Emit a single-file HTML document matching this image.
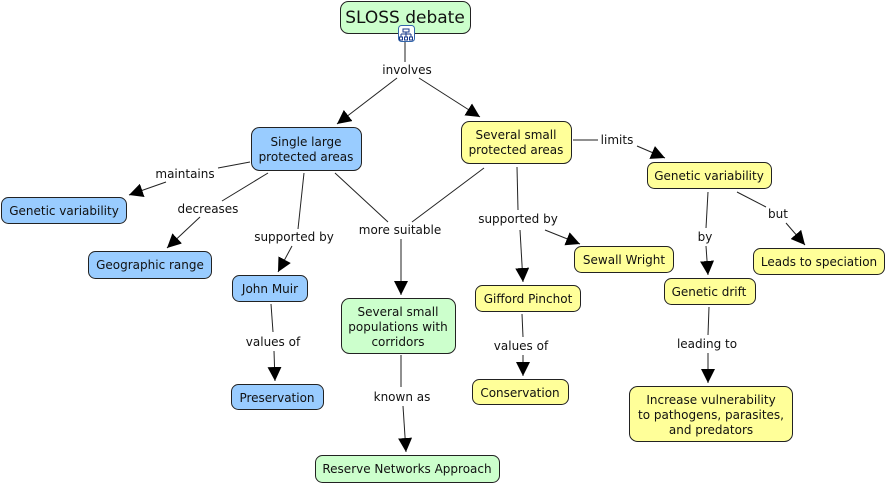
<!DOCTYPE html>
<html><head><meta charset="utf-8"><style>
body{margin:0;background:#fff;width:887px;height:484px;overflow:hidden}
text{font-family:"DejaVu Sans","Liberation Sans",sans-serif;font-size:12px;fill:#111}
.n{stroke:#222;stroke-width:1}
.b{fill:#99ccff}.y{fill:#ffff99}.g{fill:#ccffcc}
line{stroke:#222;stroke-width:1}
</style></head><body>
<svg width="887" height="484" xmlns="http://www.w3.org/2000/svg">
<defs><marker id="a" viewBox="0 0 10 10" refX="10" refY="5" markerWidth="14" markerHeight="14" markerUnits="userSpaceOnUse" orient="auto"><path d="M0,0L10,5L0,10z" fill="#000"/></marker></defs>
<g>
<line x1="405" y1="41" x2="405" y2="62"/>
<line x1="397" y1="78" x2="337" y2="124" marker-end="url(#a)"/>
<line x1="419" y1="78" x2="480" y2="117" marker-end="url(#a)"/>
<line x1="250" y1="162" x2="218" y2="168"/>
<line x1="166" y1="182" x2="129" y2="195" marker-end="url(#a)"/>
<line x1="268" y1="173" x2="222" y2="201"/>
<line x1="200" y1="217" x2="167" y2="248" marker-end="url(#a)"/>
<line x1="304" y1="173" x2="298" y2="229"/>
<line x1="292" y1="246" x2="278" y2="272" marker-end="url(#a)"/>
<line x1="335" y1="173" x2="388" y2="222"/>
<line x1="484" y1="168" x2="412" y2="222"/>
<line x1="401" y1="239" x2="401" y2="295" marker-end="url(#a)"/>
<line x1="271" y1="304" x2="273" y2="332"/>
<line x1="274" y1="351" x2="275" y2="381" marker-end="url(#a)"/>
<line x1="401" y1="355" x2="401" y2="387"/>
<line x1="403" y1="406" x2="406" y2="452" marker-end="url(#a)"/>
<line x1="517" y1="167" x2="518" y2="210"/>
<line x1="520" y1="230" x2="523" y2="282" marker-end="url(#a)"/>
<line x1="545" y1="230" x2="580" y2="244" marker-end="url(#a)"/>
<line x1="522" y1="314" x2="523" y2="337"/>
<line x1="523" y1="355" x2="523" y2="376" marker-end="url(#a)"/>
<line x1="573" y1="140" x2="598" y2="140"/>
<line x1="637" y1="146" x2="665" y2="158" marker-end="url(#a)"/>
<line x1="708" y1="192" x2="706" y2="228"/>
<line x1="706" y1="246" x2="708" y2="275" marker-end="url(#a)"/>
<line x1="737" y1="192" x2="766" y2="207"/>
<line x1="786" y1="223" x2="805" y2="245" marker-end="url(#a)"/>
<line x1="709" y1="307" x2="708" y2="335"/>
<line x1="708" y1="353" x2="708" y2="383" marker-end="url(#a)"/>
</g>
<g class="n">
<rect class="g n" x="340.5" y="1.5" width="130" height="32" rx="8"/>
<rect class="b n" x="251.5" y="127.5" width="110" height="43" rx="8"/>
<rect class="y n" x="461.5" y="121.5" width="110" height="42" rx="8"/>
<rect class="b n" x="1.5" y="197.5" width="125" height="26" rx="7"/>
<rect class="b n" x="88.5" y="251.5" width="123" height="27" rx="7"/>
<rect class="b n" x="232.5" y="275.5" width="75" height="26" rx="7"/>
<rect class="b n" x="231.5" y="384.5" width="92" height="25" rx="7"/>
<rect class="g n" x="341.5" y="298.5" width="114" height="55" rx="8"/>
<rect class="g n" x="315.5" y="455.5" width="184" height="27" rx="7"/>
<rect class="y n" x="475.5" y="285.5" width="105" height="26" rx="7"/>
<rect class="y n" x="472.5" y="379.5" width="96" height="25" rx="7"/>
<rect class="y n" x="574.5" y="246.5" width="99" height="26" rx="7"/>
<rect class="y n" x="647.5" y="162.5" width="124" height="26" rx="7"/>
<rect class="y n" x="664.5" y="278.5" width="91" height="26" rx="7"/>
<rect class="y n" x="753.5" y="248.5" width="131" height="26" rx="7"/>
<rect class="y n" x="629.5" y="386.5" width="163" height="55" rx="8"/>
</g>
<rect x="398.5" y="25.5" width="16" height="16" rx="3" fill="#fff" stroke="#3366aa"/>
<path d="M403 29h6v3h-6zM406 32v2M401 34h10M401 34v3M406 34v3M411 34v3M399.5 37h3v3h-3zM404.5 37h3v3h-3zM409.5 37h3v3h-3z" fill="none" stroke="#1a3a8a" stroke-width="1"/>
<g text-anchor="middle">
<text x="405" y="23" style="font-size:17px">SLOSS debate</text>
<text x="306" y="146">Single large</text><text x="306" y="161">protected areas</text>
<text x="516" y="139">Several small</text><text x="516" y="154">protected areas</text>
<text x="64" y="215">Genetic variability</text>
<text x="150" y="269">Geographic range</text>
<text x="270" y="293">John Muir</text>
<text x="277" y="402">Preservation</text>
<text x="398" y="316">Several small</text><text x="398" y="331">populations with</text><text x="398" y="346">corridors</text>
<text x="407" y="473">Reserve Networks Approach</text>
<text x="528" y="303">Gifford Pinchot</text>
<text x="520" y="397">Conservation</text>
<text x="624" y="264">Sewall Wright</text>
<text x="709" y="180">Genetic variability</text>
<text x="709" y="296">Genetic drift</text>
<text x="819" y="266">Leads to speciation</text>
<text x="711" y="404">Increase vulnerability</text><text x="711" y="419">to pathogens, parasites,</text><text x="711" y="434">and predators</text>
<text x="407" y="74">involves</text>
<text x="185" y="178">maintains</text>
<text x="208" y="213">decreases</text>
<text x="294" y="241">supported by</text>
<text x="400" y="234">more suitable</text>
<text x="273" y="346">values of</text>
<text x="402" y="401">known as</text>
<text x="518" y="223">supported by</text>
<text x="617" y="144">limits</text>
<text x="705" y="241">by</text>
<text x="778" y="218">but</text>
<text x="707" y="348">leading to</text>
<text x="521" y="350">values of</text>
</g>
</svg>
</body></html>
